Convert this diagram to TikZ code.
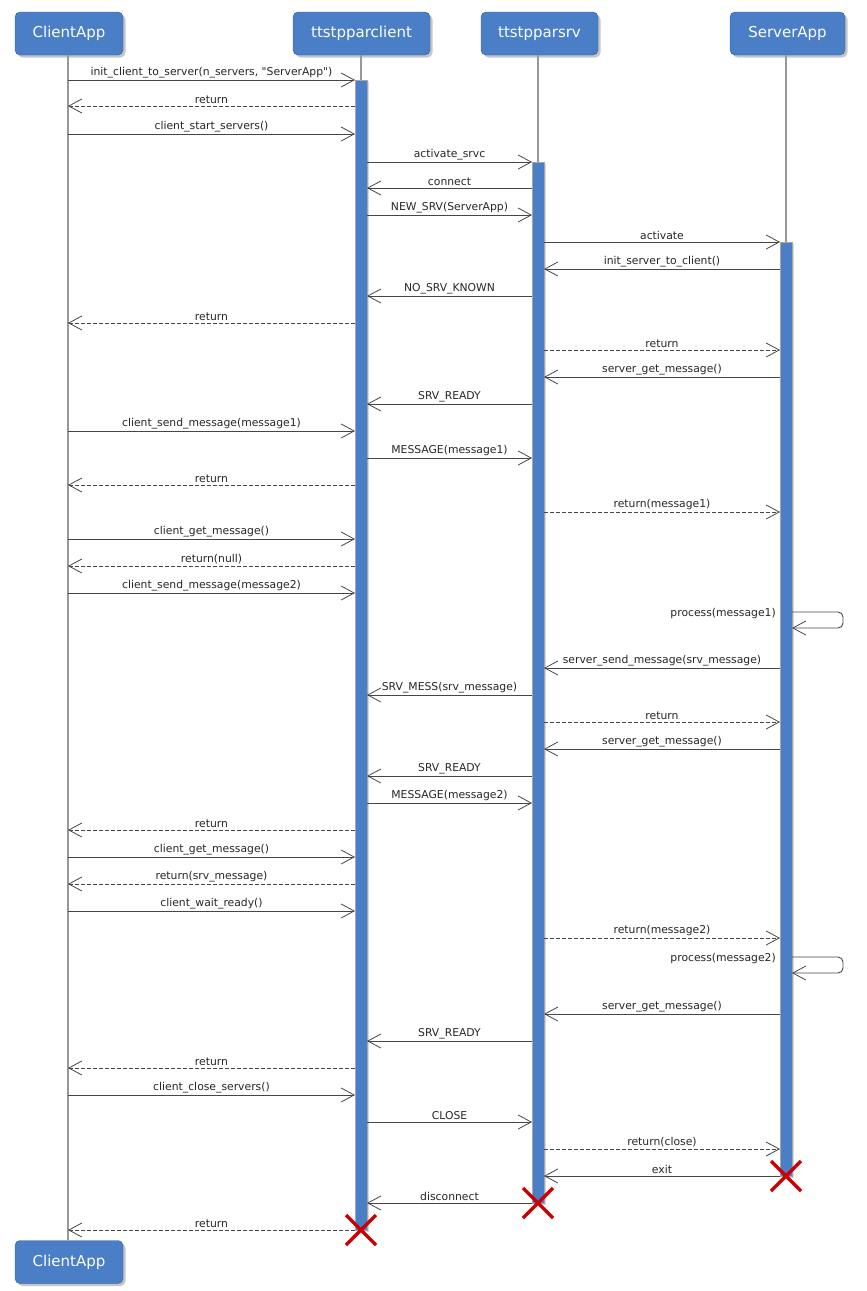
\documentclass[tikz,border=0pt]{standalone}
\usepackage{fontspec}
\setmainfont{DejaVu Sans}
\usetikzlibrary{arrows.meta,shadows}
\definecolor{boxblue}{RGB}{74,126,199}
\definecolor{xred}{RGB}{204,0,0}
\definecolor{msgline}{RGB}{70,70,70}
\tikzset{
 partbox/.style={draw=boxblue!75!black, fill=boxblue, rounded corners=5pt, text=white,
   font=\fontsize{15}{18}\selectfont, minimum height=43pt, inner sep=0pt,
   drop shadow={shadow xshift=2.5pt, shadow yshift=-2.5pt, fill=black!45}},
 lifeline/.style={draw=gray!80, line width=1.3pt},
 actbar/.style={draw=gray!70, fill=boxblue, line width=0.8pt, inner sep=0pt, minimum width=12pt, anchor=north,
   drop shadow={shadow xshift=1.5pt, shadow yshift=-1.5pt, fill=black!30}},
 callmsg/.style={draw=msgline, line width=0.9pt, -{Straight Barb[length=13pt,width=14pt,line width=0.8pt]}},
 retmsg/.style={callmsg, dash pattern=on 4pt off 2pt},
 lbl/.style={above, inner sep=1.5pt, font=\fontsize{10.8}{12}\selectfont, text=black!85},
 selflbl/.style={anchor=east, inner sep=0pt, font=\fontsize{10.8}{12}\selectfont, text=black!85},
 xmark/.style={draw=xred, line width=3.5pt},
}
\newcommand\sqmsg[6]{%
  \coordinate (#1a) at (#2,#4);
  \coordinate (#1b) at (#3,#4);
  \draw[#6] (#1a) -- node[lbl]{#5} (#1b);
}
\newcommand\selfmsg[4]{%
  \coordinate (#1a) at (792,#2);
  \coordinate (#1c) at (843,#2);
  \coordinate (#1d) at (843,#3);
  \coordinate (#1b) at (792,#3);
  \draw[callmsg, rounded corners=5pt] (#1a) -- (#1c) -- (#1d) -- (#1b);
  \node[selflbl] (#1l) at (776,#2+2) {#4};
}
\def\xA{68}
\def\xBl{355}
\def\xBr{367}
\def\xCl{532}
\def\xCr{544}
\def\xDl{780}
\def\xDr{792}
\begin{document}
\begin{tikzpicture}[x=1pt,y=-1pt]
\useasboundingbox (0,0) rectangle (867,1291);
% participants
\node[partbox, minimum width=108pt] (hca) at (69,33.5) {ClientApp};
\node[partbox, minimum width=137pt] (hcl) at (361.5,33.5) {ttstpparclient};
\node[partbox, minimum width=117pt] (hsv) at (539.5,33.5) {ttstpparsrv};
\node[partbox, minimum width=115pt] (hsa) at (787.5,33.5) {ServerApp};
\node[partbox, minimum width=108pt] (fca) at (69,1262) {ClientApp};
% end points
\coordinate (xcl) at (361,1230);
\coordinate (xsv) at (538,1203);
\coordinate (xsa) at (786,1176);
% lifelines
\draw[lifeline] (hca.south -| \xA,0) -- (fca.north -| \xA,0);
\draw[lifeline] (hcl.south -| xcl) -- (xcl);
\draw[lifeline] (hsv.south -| xsv) -- (xsv);
\draw[lifeline] (hsa.south -| xsa) -- (xsa);
% activation bars
\node[actbar, minimum height=1150pt] (bcl) at (361,80) {};
\node[actbar, minimum height=1041pt] (bsv) at (538,162) {};
\node[actbar, minimum height=934pt] (bsa) at (786,242) {};
% messages
\sqmsg{m1}{\xA}{\xBl}{80}{init\_client\_to\_server(n\_servers, \textquotedbl ServerApp\textquotedbl)}{callmsg}
\sqmsg{m2}{\xBl}{\xA}{106}{return}{retmsg}
\sqmsg{m3}{\xA}{\xBl}{134}{client\_start\_servers()}{callmsg}
\sqmsg{m4}{\xBr}{\xCl}{162}{activate\_srvc}{callmsg}
\sqmsg{m5}{\xCl}{\xBr}{188}{connect}{callmsg}
\sqmsg{m6}{\xBr}{\xCl}{215}{NEW\_SRV(ServerApp)}{callmsg}
\sqmsg{m7}{\xCr}{\xDl}{242}{activate}{callmsg}
\sqmsg{m8}{\xDl}{\xCr}{269}{init\_server\_to\_client()}{callmsg}
\sqmsg{m9}{\xCl}{\xBr}{296}{NO\_SRV\_KNOWN}{callmsg}
\sqmsg{m10}{\xBl}{\xA}{323}{return}{retmsg}
\sqmsg{m11}{\xCr}{\xDl}{350}{return}{retmsg}
\sqmsg{m12}{\xDl}{\xCr}{377}{server\_get\_message()}{callmsg}
\sqmsg{m13}{\xCl}{\xBr}{404}{SRV\_READY}{callmsg}
\sqmsg{m14}{\xA}{\xBl}{431}{client\_send\_message(message1)}{callmsg}
\sqmsg{m15}{\xBr}{\xCl}{458}{MESSAGE(message1)}{callmsg}
\sqmsg{m16}{\xBl}{\xA}{485}{return}{retmsg}
\sqmsg{m17}{\xCr}{\xDl}{512}{return(message1)}{retmsg}
\sqmsg{m18}{\xA}{\xBl}{539}{client\_get\_message()}{callmsg}
\sqmsg{m19}{\xBl}{\xA}{566}{return(null)}{retmsg}
\sqmsg{m20}{\xA}{\xBl}{593}{client\_send\_message(message2)}{callmsg}
\selfmsg{s1}{612}{628}{process(message1)}
\sqmsg{m22}{\xDl}{\xCr}{668}{server\_send\_message(srv\_message)}{callmsg}
\sqmsg{m23}{\xCl}{\xBr}{695}{SRV\_MESS(srv\_message)}{callmsg}
\sqmsg{m24}{\xCr}{\xDl}{722}{return}{retmsg}
\sqmsg{m25}{\xDl}{\xCr}{749}{server\_get\_message()}{callmsg}
\sqmsg{m26}{\xCl}{\xBr}{776}{SRV\_READY}{callmsg}
\sqmsg{m27}{\xBr}{\xCl}{803}{MESSAGE(message2)}{callmsg}
\sqmsg{m28}{\xBl}{\xA}{830}{return}{retmsg}
\sqmsg{m29}{\xA}{\xBl}{857}{client\_get\_message()}{callmsg}
\sqmsg{m30}{\xBl}{\xA}{884}{return(srv\_message)}{retmsg}
\sqmsg{m31}{\xA}{\xBl}{911}{client\_wait\_ready()}{callmsg}
\sqmsg{m32}{\xCr}{\xDl}{938}{return(message2)}{retmsg}
\selfmsg{s2}{957}{973}{process(message2)}
\sqmsg{m34}{\xDl}{\xCr}{1014}{server\_get\_message()}{callmsg}
\sqmsg{m35}{\xCl}{\xBr}{1041}{SRV\_READY}{callmsg}
\sqmsg{m36}{\xBl}{\xA}{1068}{return}{retmsg}
\sqmsg{m37}{\xA}{\xBl}{1095}{client\_close\_servers()}{callmsg}
\sqmsg{m38}{\xBr}{\xCl}{1122}{CLOSE}{callmsg}
\sqmsg{m39}{\xCr}{\xDl}{1149}{return(close)}{retmsg}
\sqmsg{m40}{\xDl}{\xCr}{1176}{exit}{callmsg}
\sqmsg{m41}{\xCl}{\xBr}{1203}{disconnect}{callmsg}
\sqmsg{m42}{\xBl}{\xA}{1230}{return}{retmsg}
% destruction marks
\draw[xmark] (xsa) ++(-15,-15) -- ++(30,30) (xsa) ++(-15,15) -- ++(30,-30);
\draw[xmark] (xsv) ++(-15,-15) -- ++(30,30) (xsv) ++(-15,15) -- ++(30,-30);
\draw[xmark] (xcl) ++(-15,-15) -- ++(30,30) (xcl) ++(-15,15) -- ++(30,-30);
\end{tikzpicture}
\end{document}
